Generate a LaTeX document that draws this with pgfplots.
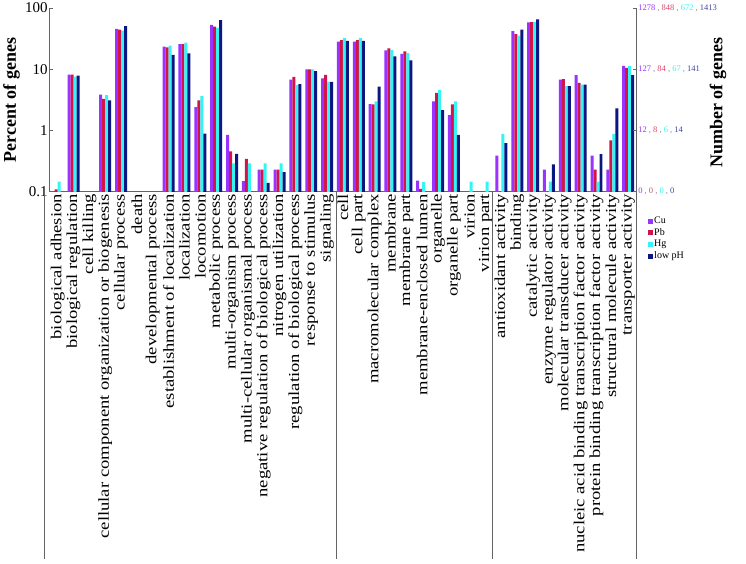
\documentclass[border=0pt]{standalone}
\usepackage{fontspec}
\setmainfont{Liberation Serif}
\newfontfamily\widefont[FakeStretch=1.22]{Liberation Serif}
\usepackage{pgfplots}
\usepackage{pgfplotstable}
\pgfplotsset{compat=1.18}
\definecolor{cCu}{RGB}{153,51,255}
\definecolor{cPb}{RGB}{210,20,70}
\definecolor{cHg}{RGB}{51,245,245}
\definecolor{cLow}{RGB}{12,22,128}
\definecolor{axgray}{RGB}{100,100,100}
\newcommand\rl[4]{\textcolor{cCu}{#1}\textcolor{gray}{\ ,\ }\textcolor{cPb!80}{#2}\textcolor{gray}{\ ,\ }\textcolor{cHg}{#3}\textcolor{gray}{\ ,\ }\textcolor{cLow!80}{#4}}

\pgfplotstableread{
idx Cu Pb Hg low
0 nan 0.11 0.146 nan
1 8.2 8.2 7.6 7.9
2 nan nan nan nan
3 3.85 3.3 3.8 3.1
4 45.7 44.5 42.8 50.6
5 nan nan nan nan
6 nan nan nan nan
7 23.3 22.8 24.3 17.1
8 25.6 25.6 27.2 18.2
9 2.4 3.1 3.65 0.89
10 53 49.8 47.4 63.5
11 0.85 0.455 0.29 0.417
12 0.15 0.345 0.29 nan
13 0.23 0.23 0.29 0.14
14 0.23 0.23 0.29 0.21
15 6.8 7.5 5.5 5.7
16 10 10 10 9.3
17 7.1 8.1 6.2 6.2
18 28.3 29.8 32.4 29
19 28.3 29.8 32.4 29
20 2.7 2.68 3.0 5.2
21 20.4 22 20.8 16.3
22 17.9 19.6 18.4 14
23 0.152 0.112 0.145 nan
24 2.98 4.1 4.58 2.15
25 1.78 2.68 3.0 0.85
26 nan nan 0.146 nan
27 nan nan 0.146 nan
28 0.39 nan 0.88 0.625
29 41.9 37.3 35.4 44.5
30 58 58.9 58.9 64.9
31 0.23 nan 0.146 0.28
32 6.8 6.9 5.3 5.3
33 8.0 6.0 5.6 5.6
34 0.39 0.23 0.146 0.41
35 0.23 0.69 0.88 2.29
36 11.4 10.5 11.2 8.0
}\godata

\begin{document}
\begin{tikzpicture}
\path (0pt,0pt) rectangle (746pt,564pt);
\begin{axis}[
  at={(49pt,372pt)}, anchor=south west,
  scale only axis, width=587pt, height=184pt,
  ymode=log, log origin=infty,
  ymin=0.1, ymax=100, xmin=-0.5, xmax=36.5,
  ybar=0pt, bar width=3pt,
  axis x line*=bottom, axis y line*=left,
  axis line style={axgray, line width=0.9pt},
  xtick={0,...,36},
  xticklabels={biological adhesion,biological regulation,cell killing,cellular component organization or biogenesis,cellular process,death,developmental process,establishment of localization,localization,locomotion,metabolic process,multi-organism process,multi-cellular organismal process,negative regulation of biological process,nitrogen utilization,regulation of biological process,response to stimulus,signaling,cell,cell part,macromolecular complex,membrane,membrane part,membrane-enclosed lumen,organelle,organelle part,virion,virion part,antioxidant activity,binding,catalytic activity,enzyme regulator activity,molecular transducer activity,nucleic acid binding transcription factor activity,protein binding transcription factor activity,structural molecule activity,transporter activity},
  x tick label style={rotate=90, anchor=east, font=\widefont\fontsize{15.3}{15.3}\selectfont, inner sep=2pt},
  x tick style={draw=none},
  ytick={0.1,1,10,100}, yticklabels={0.1,1,10,100},
  y tick label style={font=\fontsize{15}{15}\selectfont, inner sep=2pt},
  y tick style={axgray, line width=0.8pt},
  tick align=inside, major tick length=3pt,
  minor tick num=0, yminorticks=false,
  ylabel={Percent of genes},
  ylabel style={at={(axis description cs:-0.065,0.5)}, anchor=center, font=\bfseries\fontsize{18}{18}\selectfont},
  clip=false,
  legend style={at={(axis description cs:1.02,-0.13)}, anchor=north west, draw=none, fill=none,
    font=\fontsize{10}{11}\selectfont, row sep=1pt, inner sep=0pt, nodes={inner sep=1.2pt}},
  legend cell align=left,
  legend image code/.code={\fill[#1] (0pt,-2.5pt) rectangle (5pt,2.5pt);},
]
\addplot[fill=cCu, draw=none] table[x=idx, y=Cu] {\godata};
\addplot[fill=cPb, draw=none] table[x=idx, y=Pb] {\godata};
\addplot[fill=cHg, draw=none] table[x=idx, y=Hg] {\godata};
\addplot[fill=cLow, draw=none] table[x=idx, y=low] {\godata};
\legend{Cu,Pb,Hg,low pH}
\end{axis}
\begin{axis}[
  at={(49pt,372pt)}, anchor=south west,
  scale only axis, width=587pt, height=184pt,
  ymode=log, ymin=0.1, ymax=100, xmin=-0.5, xmax=36.5,
  axis x line=none, axis y line*=right,
  axis line style={axgray, line width=0.9pt},
  ytick={0.1,1,10,100},
  yticklabels={{\rl{0}{0}{0}{0}},{\rl{12}{8}{6}{14}},{\rl{127}{84}{67}{141}},{\rl{1278}{848}{672}{1413}}},
  y tick label style={font=\fontsize{8.5}{8.5}\selectfont, inner sep=2pt},
  y tick style={axgray, line width=0.8pt},
  tick align=inside, major tick length=3pt,
  yminorticks=false,
]
\end{axis}
\draw[axgray, line width=0.9pt] (44pt,372pt) -- (44pt,4pt);
\draw[axgray, line width=0.9pt] (335.5pt,372pt) -- (335.5pt,4pt);
\draw[axgray, line width=0.9pt] (492.5pt,372pt) -- (492.5pt,4pt);
\draw[axgray, line width=0.9pt] (636pt,372pt) -- (636pt,4pt);
\node[rotate=90, font=\bfseries\fontsize{18}{18}\selectfont] at (718pt,461pt) {Number of genes};
\end{tikzpicture}
\end{document}
